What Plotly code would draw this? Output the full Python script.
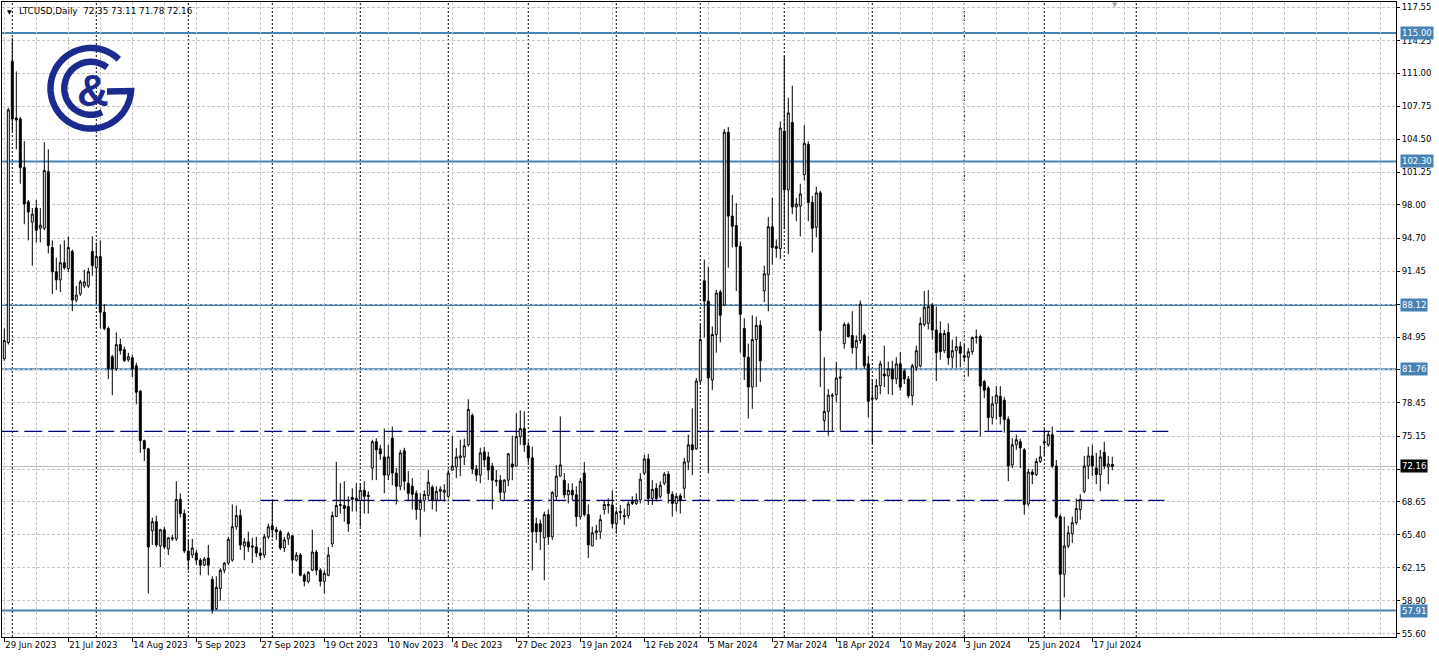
import math
import plotly.graph_objects as go

# ---------------- data ----------------
opens = [82.8, 84.4, 112.2, 106.6, 106.5, 101.7, 98.3, 96.3, 97.7, 95.7,
         95.7, 101.3, 93.8, 91.4, 90.6, 92.3, 91.7, 93.4, 88.6, 89.2,
         90.0, 90.0, 93.4, 91.8, 92.9, 87.4, 85.8, 83.0, 81.8, 84.2,
         83.7, 82.7, 82.9, 82.1, 79.6, 74.7, 73.9, 65.8, 66.7, 64.3,
         65.9, 64.0, 65.1, 65.0, 68.9, 67.5, 63.8, 63.4, 63.6, 62.9,
         62.4, 63.1, 61.0, 58.1, 60.1, 61.9, 62.6, 62.9, 66.2, 67.3,
         64.3, 64.7, 64.3, 64.2, 63.6, 63.4, 65.2, 66.3, 65.9, 65.7,
         64.1, 65.0, 65.3, 62.9, 63.4, 61.4, 60.8, 61.9, 63.7, 61.9,
         60.8, 61.4, 64.5, 67.2, 68.3, 68.3, 68.2, 69.1, 69.0, 68.8,
         69.8, 69.3, 72.0, 74.6, 73.9, 73.1, 71.3, 74.96, 71.5, 70.2,
         73.7, 70.5, 70.2, 69.5, 67.9, 68.8, 69.3, 70.1, 68.85, 69.7,
         69.6, 69.2, 71.8, 72.1, 73.0, 73.1, 74.3, 77.2, 71.9, 71.3,
         73.6, 73.1, 72.2, 70.8, 70.8, 69.6, 70.8, 72.4, 72.2, 75.1,
         75.9, 74.2, 73.0, 66.5, 66.5, 65.1, 67.4, 65.2, 69.2, 71.2,
         70.8, 69.35, 69.8, 69.35, 67.2, 71.5, 67.4, 64.3, 65.6, 65.7,
         67.9, 68.3, 68.35, 66.5, 67.7, 67.3, 67.3, 68.5, 68.5, 68.85,
         71.5, 72.9, 69.0, 70.0, 69.2, 70.5, 71.4, 69.4, 68.5, 69.25,
         70.0, 72.6, 74.3, 73.9, 80.6, 90.5, 88.5, 80.7, 85.2, 89.4,
         88.1, 105.2, 96.9, 95.97, 93.9, 85.8, 82.95, 80.0, 84.7, 86.1,
         89.5, 91.1, 95.85, 93.9, 93.7, 105.3, 99.5, 106.15, 97.8, 97.9,
         101.0, 104.0, 98.25, 95.8, 99.2, 76.7, 77.6, 79.1, 79.25, 81.0,
         84.3, 86.2, 85.1, 83.9, 84.6, 85.1, 82.3, 78.8, 78.85, 80.15,
         81.3, 81.1, 81.8, 80.8, 82.3, 81.6, 80.8, 79.15, 81.95, 82.1,
         86.2, 86.3, 88.1, 85.65, 85.3, 83.6, 85.4, 82.95, 83.6, 84.0,
         83.1, 82.95, 83.5, 84.9, 85.0, 80.55, 79.9, 77.0, 78.4, 79.1,
         78.7, 76.8, 72.3, 74.3, 74.6, 73.8, 68.45, 71.6, 71.35, 72.65,
         74.6, 74.3, 75.3, 72.2, 67.2, 61.5, 64.3, 65.5, 66.6, 67.9,
         69.7, 72.2, 73.2, 72.0, 71.35, 73.55, 72.1, 72.35]
highs = [85.8, 107.6, 114.5, 111.2, 106.7, 104.3, 98.5, 97.7, 98.5, 97.7,
         104.2, 103.5, 94.5, 92.8, 94.1, 94.5, 94.9, 93.6, 90.0, 90.6,
         91.6, 91.8, 94.9, 94.3, 94.5, 88.2, 86.0, 83.2, 85.4, 84.8,
         84.0, 83.4, 83.2, 82.4, 79.7, 74.8, 74.0, 67.1, 67.3, 66.0,
         66.2, 65.2, 65.4, 70.7, 69.5, 67.9, 64.9, 65.0, 63.9, 63.1,
         63.2, 64.4, 61.3, 61.3, 62.1, 62.7, 65.2, 68.4, 68.3, 67.9,
         65.1, 65.7, 65.1, 65.2, 64.1, 65.5, 66.5, 68.8, 66.2, 65.9,
         65.2, 65.7, 65.4, 63.7, 63.6, 61.6, 61.8, 65.9, 63.9, 62.1,
         61.9, 64.2, 67.7, 72.6, 70.5, 70.7, 69.2, 70.0, 70.5, 70.5,
         70.7, 69.7, 74.8, 74.96, 74.3, 75.9, 74.3, 76.1, 72.0, 73.8,
         74.0, 71.7, 71.0, 69.8, 69.5, 69.8, 71.8, 70.3, 70.2, 70.2,
         70.4, 71.8, 75.2, 74.0, 74.8, 74.9, 78.8, 77.4, 72.3, 74.0,
         74.1, 73.6, 72.5, 71.8, 71.3, 70.9, 73.5, 75.2, 77.4, 77.7,
         77.6, 74.6, 74.1, 67.1, 66.9, 67.7, 67.9, 69.7, 72.3, 77.1,
         71.5, 70.5, 70.5, 70.2, 71.0, 72.6, 68.4, 66.2, 66.4, 67.4,
         68.85, 69.0, 69.8, 67.9, 68.35, 68.0, 68.7, 69.2, 69.5, 71.5,
         73.3, 73.4, 70.8, 70.5, 70.7, 71.6, 71.7, 69.7, 69.5, 69.5,
         73.0, 75.3, 77.9, 80.9, 86.2, 92.6, 91.9, 86.0, 89.6, 89.6,
         105.5, 105.7, 99.0, 98.2, 94.4, 86.8, 84.3, 87.1, 86.96, 86.6,
         92.0, 96.8, 98.7, 94.6, 106.25, 112.7, 108.6, 109.8, 98.7, 100.1,
         105.9, 104.3, 98.9, 99.8, 99.4, 82.95, 79.8, 79.4, 82.5, 81.8,
         86.4, 86.4, 87.5, 85.1, 88.55, 85.3, 83.1, 80.8, 80.8, 82.6,
         84.1, 82.5, 82.6, 82.95, 83.45, 81.8, 81.1, 82.3, 84.1, 86.9,
         89.5, 89.6, 88.3, 87.96, 86.5, 85.65, 86.3, 84.7, 85.0, 84.5,
         84.3, 83.85, 85.0, 85.7, 85.2, 80.7, 80.1, 79.1, 80.1, 80.1,
         79.0, 77.1, 74.96, 75.3, 74.9, 73.97, 71.9, 71.85, 72.98, 74.2,
         75.85, 75.6, 76.1, 72.8, 67.4, 67.2, 66.3, 67.2, 69.0, 69.4,
         73.2, 74.1, 74.3, 73.5, 73.8, 74.6, 73.2, 73.11]
lows = [82.6, 84.2, 105.3, 103.5, 100.1, 96.1, 94.5, 92.0, 94.3, 94.3,
        95.5, 93.2, 89.2, 89.6, 89.4, 91.6, 91.4, 87.5, 88.4, 89.0,
        89.8, 89.8, 91.0, 88.2, 85.8, 85.6, 80.8, 79.2, 81.6, 83.2,
        82.5, 82.5, 81.0, 78.3, 73.5, 72.7, 59.6, 64.4, 64.2, 62.2,
        64.0, 63.4, 64.8, 64.8, 67.1, 63.6, 61.9, 63.1, 62.4, 61.4,
        62.3, 61.4, 57.6, 57.97, 58.9, 61.6, 62.4, 62.75, 65.9, 63.9,
        62.9, 63.7, 62.6, 63.2, 62.9, 63.1, 65.0, 65.1, 64.9, 63.9,
        63.7, 64.4, 61.6, 62.75, 61.3, 60.3, 60.6, 61.8, 61.4, 60.3,
        59.6, 61.3, 64.2, 67.2, 67.5, 66.7, 65.7, 67.7, 67.7, 66.2,
        67.5, 67.5, 70.8, 70.8, 72.8, 69.5, 70.8, 70.3, 68.4, 69.8,
        69.8, 68.8, 67.9, 66.9, 65.2, 67.7, 68.8, 67.9, 67.7, 68.85,
        68.7, 69.0, 71.7, 71.0, 71.2, 72.3, 74.1, 71.4, 70.7, 70.5,
        72.1, 70.8, 67.9, 70.2, 68.85, 68.85, 70.2, 70.8, 72.2, 74.3,
        73.6, 72.5, 61.9, 64.6, 63.9, 60.9, 64.4, 64.9, 68.85, 71.2,
        69.0, 68.5, 68.85, 66.2, 66.9, 67.2, 63.1, 64.3, 64.9, 65.0,
        67.4, 67.5, 66.05, 65.5, 66.9, 66.4, 67.0, 68.35, 68.35, 68.5,
        71.3, 68.35, 68.35, 68.7, 69.0, 70.3, 68.5, 67.2, 67.7, 67.5,
        69.0, 71.8, 71.3, 73.8, 80.4, 84.9, 71.5, 79.7, 83.4, 84.4,
        88.0, 91.8, 93.8, 89.5, 83.4, 80.7, 76.9, 77.85, 80.0, 80.5,
        88.4, 87.5, 92.1, 92.8, 92.65, 95.6, 93.15, 97.1, 96.4, 94.9,
        100.4, 96.4, 93.3, 94.8, 80.0, 75.7, 75.2, 75.7, 78.5, 75.7,
        83.8, 84.9, 83.3, 81.8, 84.3, 81.8, 77.0, 74.4, 78.7, 79.3,
        80.0, 79.3, 79.2, 80.3, 79.65, 80.3, 78.9, 78.2, 81.6, 81.95,
        86.0, 85.7, 84.7, 80.6, 82.7, 83.35, 82.2, 81.9, 81.9, 81.95,
        82.5, 81.05, 83.2, 84.3, 75.1, 78.9, 75.6, 76.3, 76.8, 76.3,
        75.5, 70.7, 72.0, 73.8, 72.0, 67.4, 68.2, 70.4, 71.2, 72.5,
        73.2, 74.1, 72.0, 67.0, 57.0, 59.2, 64.1, 64.6, 66.4, 66.9,
        69.5, 70.9, 71.2, 70.4, 69.7, 71.9, 70.4, 71.78]
closes = [84.6, 107.4, 106.5, 106.4, 101.7, 98.1, 97.3, 97.1, 95.5, 96.0,
          101.4, 94.0, 91.4, 90.6, 92.3, 91.8, 93.8, 88.6, 89.1, 90.4,
          90.4, 91.4, 92.0, 92.9, 87.4, 85.8, 81.8, 81.8, 84.2, 83.6,
          82.6, 83.0, 81.8, 79.5, 74.7, 73.9, 64.2, 66.7, 64.4, 65.9,
          64.2, 65.1, 65.0, 68.9, 67.5, 63.8, 62.9, 64.1, 62.9, 62.4,
          63.0, 62.4, 58.0, 60.2, 61.9, 62.6, 64.96, 66.2, 67.3, 64.4,
          64.7, 64.2, 64.2, 63.6, 63.35, 65.2, 66.2, 65.9, 65.7, 64.1,
          64.9, 65.5, 62.9, 63.4, 61.4, 60.8, 61.7, 63.7, 61.9, 60.8,
          61.6, 63.4, 67.3, 68.3, 68.4, 68.0, 66.5, 68.9, 68.8, 69.8,
          69.2, 69.2, 74.6, 73.8, 73.4, 71.3, 73.1, 71.5, 70.2, 73.5,
          70.7, 69.5, 69.4, 67.9, 68.7, 69.4, 70.6, 68.85, 69.7, 69.9,
          69.8, 71.5, 72.2, 73.1, 73.2, 74.2, 77.8, 71.9, 71.3, 73.5,
          72.8, 71.8, 70.8, 70.7, 69.6, 70.8, 73.4, 72.1, 75.1, 75.9,
          74.3, 73.0, 65.7, 65.7, 65.7, 67.4, 65.2, 69.6, 71.2, 72.3,
          69.35, 69.8, 69.35, 67.2, 70.7, 67.4, 64.4, 65.6, 65.8, 66.9,
          68.4, 68.4, 66.5, 67.6, 67.6, 67.2, 68.45, 68.7, 68.85, 70.9,
          72.9, 69.0, 69.9, 69.0, 70.3, 71.4, 69.5, 68.5, 69.2, 68.85,
          72.6, 74.3, 73.8, 80.6, 84.7, 88.5, 80.9, 85.2, 89.3, 87.1,
          105.2, 96.9, 95.9, 93.9, 87.2, 83.0, 80.0, 84.7, 86.1, 82.6,
          91.2, 95.85, 93.8, 93.7, 105.6, 99.5, 107.1, 97.8, 98.1, 99.1,
          104.1, 98.25, 95.7, 99.2, 85.6, 77.6, 79.2, 79.2, 80.9, 80.9,
          86.2, 85.0, 83.9, 84.6, 88.2, 82.1, 78.6, 78.9, 80.15, 82.3,
          81.1, 81.8, 80.8, 82.3, 80.0, 80.8, 79.15, 82.1, 83.6, 86.3,
          87.9, 87.96, 85.65, 83.4, 83.5, 85.3, 82.9, 83.6, 84.0, 83.35,
          82.95, 83.5, 84.9, 84.95, 80.1, 79.7, 77.0, 78.35, 79.2, 77.1,
          76.8, 72.2, 74.3, 74.8, 74.0, 68.4, 71.6, 71.35, 72.65, 73.1,
          74.5, 75.3, 72.2, 67.2, 61.5, 64.3, 65.6, 66.6, 68.0, 68.9,
          72.2, 73.2, 72.2, 71.35, 73.1, 72.2, 72.4, 72.16]

date_labels = ["29 Jun 2023", "21 Jul 2023", "14 Aug 2023", "5 Sep 2023",
               "27 Sep 2023", "19 Oct 2023", "10 Nov 2023", "4 Dec 2023",
               "27 Dec 2023", "19 Jan 2024", "12 Feb 2024", "5 Mar 2024",
               "27 Mar 2024", "18 Apr 2024", "10 May 2024", "3 Jun 2024",
               "25 Jun 2024", "17 Jul 2024"]
label_bars = [0, 16, 32, 48, 64, 80, 96, 112, 128, 144, 160, 176, 192,
              208, 224, 240, 256, 272]
month_start_bars = [2, 23, 46, 67, 89, 111, 131, 153, 174, 195, 217, 240,
                    260, 283]
price_ticks = [117.55, 114.25, 111.00, 107.75, 104.50, 101.25, 98.00,
               94.70, 91.45, 88.20, 84.95, 81.70, 78.45, 75.15, 71.90,
               68.65, 65.40, 62.15, 58.90, 55.60]
levels = [115.00, 102.30, 88.12, 81.76, 57.91]
dashed_levels = [75.62, 68.80]
dashed_from = [-1, 64]
dashed_to = [291, 290]
last_price = 72.16
symbol_text = "LTCUSD,Daily  72.35 73.11 71.78 72.16"

# ---------------- geometry ----------------
W, H = 1439, 658
ML, MR, MT, MB = 2, 43, 2, 21
PW, PH = W - ML - MR, H - MT - MB
X_RANGE = [-0.575, 347.93]
Y_RANGE = [55.30, 118.064]

GRID = "#c4c4c4"
LEVEL = "#4682b4"
NAVY = "#00007f"
LOGO = "#1c2a8e"
FONT = "DejaVu Sans"


def pu(px):
    return (px - ML) / PW


def pv(py):
    return (H - MB - py) / PH


bars = list(range(len(opens)))

fig = go.Figure()
fig.add_trace(go.Candlestick(
    x=bars, open=opens, high=highs, low=lows, close=closes,
    increasing=dict(line=dict(color="black", width=1), fillcolor="white"),
    decreasing=dict(line=dict(color="black", width=1), fillcolor="black"),
    whiskerwidth=0, hoverinfo="skip", showlegend=False,
))

shapes = []
# month separators
for b in month_start_bars:
    shapes.append(dict(type="line", xref="x", yref="paper", x0=b, x1=b,
                       y0=0, y1=1, layer="between",
                       line=dict(color="black", width=1, dash="2px,2px")))
# current price line
shapes.append(dict(type="line", xref="paper", yref="y", x0=0, x1=1,
                   y0=last_price, y1=last_price, layer="between",
                   line=dict(color="#b8b8b8", width=1)))
# dashed support / resistance lines
for lv, a, b in zip(dashed_levels, dashed_from, dashed_to):
    shapes.append(dict(type="line", xref="x", yref="y", x0=a, x1=b,
                       y0=lv, y1=lv, layer="between",
                       line=dict(color=NAVY, width=1.2, dash="18px,6px")))
# horizontal levels
for lv in levels:
    shapes.append(dict(type="line", xref="paper", yref="y", x0=0, x1=1,
                       y0=lv, y1=lv, layer="between",
                       line=dict(color=LEVEL, width=2)))


# logo (drawn in pixel space, converted to paper)
def arc(cx, cy, r, a0, a1, n=90):
    pts = []
    for k in range(n + 1):
        a = math.radians(a0 + (a1 - a0) * k / n)
        pts.append((cx + r * math.cos(a), cy - r * math.sin(a)))
    return pts


def path_of(pts):
    return "M " + " L ".join(f"{pu(x):.5f},{pv(y):.5f}" for x, y in pts)


CX, CY = 90.8, 88.3
outer = arc(CX, CY, 40.3, 46, 360 - 4) + [(107, CY + 3.2)]
inner = arc(CX, CY, 26.5, 52, 295)
for pts in (outer, inner):
    shapes.append(dict(type="path", xref="paper", yref="paper",
                       path=path_of(pts), layer="above",
                       line=dict(color=LOGO, width=6.5)))

annotations = []
annotations.append(dict(xref="paper", yref="paper", x=pu(93), y=pv(90),
                        text="<b>&amp;</b>", showarrow=False,
                        font=dict(family="Liberation Sans", size=44,
                                  color=LOGO),
                        xanchor="center", yanchor="middle"))
# header
annotations.append(dict(xref="paper", yref="paper", x=pu(5), y=pv(11),
                        text="\u25bc", showarrow=False,
                        font=dict(family=FONT, size=6, color="black"),
                        xanchor="left", yanchor="middle"))
annotations.append(dict(xref="paper", yref="paper", x=pu(17), y=pv(11),
                        text=symbol_text, showarrow=False,
                        font=dict(family=FONT, size=8.8, color="black"),
                        xanchor="left", yanchor="middle"))
annotations.append(dict(xref="paper", yref="paper", x=pu(1115), y=pv(5),
                        text="\u25bc", showarrow=False,
                        font=dict(family=FONT, size=7, color="#a8a8a8"),
                        xanchor="center", yanchor="middle"))
# price labels on the axis
for lv in levels:
    annotations.append(dict(xref="paper", yref="y", x=1, y=lv,
                            text=f"{lv:.2f}", showarrow=False,
                            xanchor="left", yanchor="middle", xshift=4,
                            bgcolor=LEVEL, borderpad=1,
                            font=dict(family=FONT, size=8.5, color="white")))
annotations.append(dict(xref="paper", yref="y", x=1, y=last_price,
                        text=f"{last_price:.2f}", showarrow=False,
                        xanchor="left", yanchor="middle", xshift=4,
                        bgcolor="black", borderpad=1,
                        font=dict(family=FONT, size=8.5, color="white")))

grid_bars = list(range(0, 348, 8))
# the 71.90 label is hidden behind the last-price box in the reference
price_tick_text = ["" if abs(v - last_price) < 0.5 else f"{v:.2f}"
                   for v in price_ticks]

fig.update_layout(
    width=W, height=H,
    margin=dict(l=ML, r=MR, t=MT, b=MB, pad=0),
    paper_bgcolor="white", plot_bgcolor="white",
    showlegend=False,
    shapes=shapes, annotations=annotations,
    xaxis=dict(
        range=X_RANGE, rangeslider=dict(visible=False),
        tickmode="array", tickvals=label_bars, ticktext=date_labels,
        ticks="outside", ticklen=4, tickcolor="black",
        ticklabelposition="outside right",
        tickfont=dict(family=FONT, size=8.5, color="black"),
        showline=True, linecolor="black", linewidth=1, mirror=True,
        showgrid=True, gridcolor=GRID, griddash="3px,2px", gridwidth=1,
        minor=dict(tickmode="array", tickvals=grid_bars, showgrid=True,
                   gridcolor=GRID, griddash="3px,2px", ticks=""),
        zeroline=False, fixedrange=True,
    ),
    yaxis=dict(
        range=Y_RANGE, side="right",
        tickmode="array", tickvals=price_ticks, ticktext=price_tick_text,
        ticks="outside", ticklen=3, tickcolor="black",
        tickfont=dict(family=FONT, size=8.5, color="black"),
        showline=True, linecolor="black", linewidth=1, mirror=True,
        showgrid=True, gridcolor=GRID, griddash="3px,2px", gridwidth=1,
        zeroline=False, fixedrange=True,
    ),
)

fig.write_html("out.html",
               config={"displayModeBar": False, "staticPlot": True},
               post_script="document.body.style.margin='0';"
                           "document.body.style.overflow='hidden';")
